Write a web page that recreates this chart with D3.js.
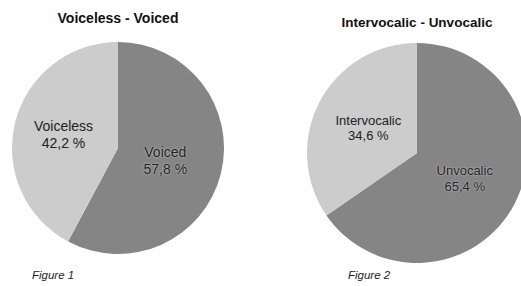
<!DOCTYPE html>
<html>
<head>
<meta charset="utf-8">
<script src="https://cdn.jsdelivr.net/npm/d3@7"></script>
<style>
  body { margin: 0; background: #fff; }
  svg { display: block; font-family: "Liberation Sans", Arial, Helvetica, sans-serif; }
  .dark-label { text-shadow: 0 0 2px rgba(255,255,255,0.7); }
</style>
</head>
<body>
<svg id="chart" width="521" height="286"></svg>
<script>
const svg = d3.select("#chart");

const titles = ["Voiceless - Voiced", "Intervocalic - Unvocalic"];
const captions = ["Figure 1", "Figure 2"];
const labels1 = ["Voiced", "Voiceless"];
const values1 = [57.8, 42.2];
const labels2 = ["Unvocalic", "Intervocalic"];
const values2 = [65.4, 34.6];

const colors = ["#858585", "#cbcccb"];

drawPie(labels1, values1, titles[0], captions[0],
    {cx: 118, cy: 148, r: 106, titleY: 23, titleSize: 14, labelSize: 14, labelR: [0.46, 0.53], capX: 32});
drawPie(labels2, values2, titles[1], captions[1],
    {cx: 417, cy: 153, r: 110, titleY: 27, titleSize: 13.5, labelSize: 13, labelR: [0.49, 0.5], capX: 348});

function drawPie(labels, values, title, caption, opt) {
    const data = labels.map((l, i) => ({label: l, value: values[i]}));
    const pie = d3.pie().value(d => d.value).sort(null);
    const arc = d3.arc().innerRadius(0).outerRadius(opt.r);

    const g = svg.append("g")
        .attr("transform", `translate(${opt.cx},${opt.cy})`);

    g.selectAll("path")
        .data(pie(data))
        .enter()
        .append("path")
        .attr("d", arc)
        .attr("fill", (d, i) => colors[i]);

    const lbl = g.selectAll(".lbl")
        .data(pie(data))
        .enter()
        .append("text")
        .attr("class", (d, i) => i === 0 ? "lbl dark-label" : "lbl")
        .attr("transform", (d, i) => {
            const lr = opt.r * opt.labelR[i];
            return `translate(${d3.arc().innerRadius(lr).outerRadius(lr).centroid(d)})`;
        })
        .attr("text-anchor", "middle")
        .style("font-size", opt.labelSize + "px")
        .attr("fill", "#222");

    lbl.append("tspan")
        .attr("x", 0)
        .attr("dy", "-0.22em")
        .text(d => d.data.label);

    lbl.append("tspan")
        .attr("x", 0)
        .attr("dy", "1.2em")
        .text(d => d3.format(".1f")(d.data.value).replace(".", ",") + " %");

    svg.append("text")
        .attr("x", opt.cx)
        .attr("y", opt.titleY)
        .attr("text-anchor", "middle")
        .style("font-size", opt.titleSize + "px")
        .style("font-weight", "bold")
        .attr("fill", "#111")
        .text(title);

    svg.append("text")
        .attr("x", opt.capX)
        .attr("y", 279)
        .style("font-size", "11.5px")
        .style("font-style", "italic")
        .attr("fill", "#222")
        .text(caption);
}
</script>
</body>
</html>
